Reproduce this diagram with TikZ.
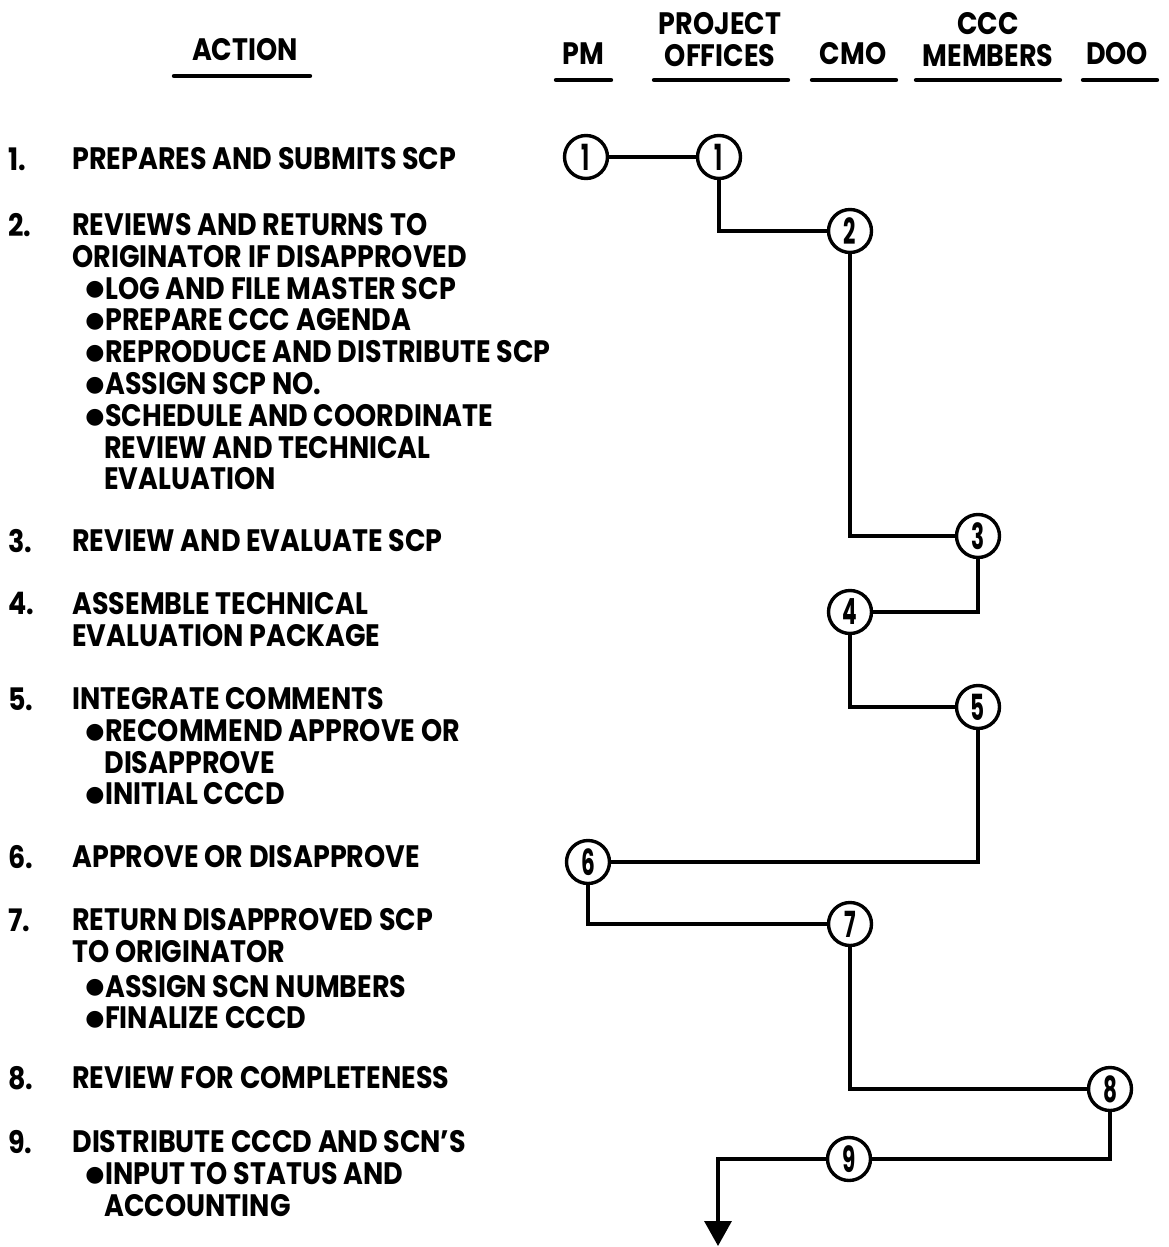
\documentclass[tikz,border=0pt]{standalone}
\usepackage{fontspec}
\setmainfont{Poppins}[FakeStretch=0.87]
\newfontfamily\stagefont{Poppins}[FakeStretch=0.6]
\newfontfamily\dotfont{DejaVu Sans}
\usetikzlibrary{arrows.meta}

\newcommand{\blt}{\hspace*{6.5pt}\raisebox{1.6pt}{\dotfont\fontsize{11}{11}\selectfont ●}\hspace{0.3pt}}
\newcommand{\cnt}{\hspace*{16pt}}

\begin{document}
\begin{tikzpicture}[x=0.5pt, y=-0.5pt,
	every node/.style={inner sep=0pt, font=\bfseries\fontsize{15.5}{15.9}\selectfont},
	item/.style={anchor=north west, align=left},
	head/.style={anchor=north, align=center},
	stage/.style={circle, draw, line width=1.7pt, minimum size=21.5pt, font=\stagefont\bfseries\fontsize{18}{18}\selectfont},
	flow/.style={line width=1.7pt},
	rule/.style={line width=2.2pt, line cap=round}]
	\useasboundingbox (0,0) rectangle (1168,1247);

	% column heads
	\node[head] (hact) at (245,38) {ACTION};
	\node[head] (hpm) at (583,42) {PM};
	\node[head] (hpo) at (720,12) {PROJECT\\OFFICES};
	\node[head] (hcmo) at (853,42) {CMO};
	\node[head] (hccc) at (988,12) {CCC\\MEMBERS};
	\node[head] (hdoo) at (1117,42) {DOO};
	\draw[rule] (174,76) -- (310,76);
	\foreach \a/\b in {556/611, 654/788, 812/896, 916/1060, 1083/1157} {\draw[rule] (\a,80) -- (\b,80);}

	% actions
	\foreach \k/\y in {1/147,2/213,3/529,4/592,5/687,6/845,7/908,8/1066,9/1130} {\node[item] (n\k) at (8,\y) {\k.};}
	\node[item] (t1) at (72,147) {PREPARES AND SUBMITS SCP};
	\node[item] (t2) at (72,213) {REVIEWS AND RETURNS TO\\ORIGINATOR IF DISAPPROVED\\\blt LOG AND FILE MASTER SCP\\\blt PREPARE CCC AGENDA\\\blt REPRODUCE AND DISTRIBUTE SCP\\\blt ASSIGN SCP NO.\\\blt SCHEDULE AND COORDINATE\\\cnt REVIEW AND TECHNICAL\\\cnt EVALUATION};
	\node[item] (t3) at (72,529) {REVIEW AND EVALUATE SCP};
	\node[item] (t4) at (72,592) {ASSEMBLE TECHNICAL\\EVALUATION PACKAGE};
	\node[item] (t5) at (72,687) {INTEGRATE COMMENTS\\\blt RECOMMEND APPROVE OR\\\cnt DISAPPROVE\\\blt INITIAL CCCD};
	\node[item] (t6) at (72,845) {APPROVE OR DISAPPROVE};
	\node[item] (t7) at (72,908) {RETURN DISAPPROVED SCP\\TO ORIGINATOR\\[1.5pt]\blt ASSIGN SCN NUMBERS\\\blt FINALIZE CCCD};
	\node[item] (t8) at (72,1066) {REVIEW FOR COMPLETENESS};
	\node[item] (t9) at (72,1130) {DISTRIBUTE CCCD AND SCN'S\\\blt INPUT TO STATUS AND\\\cnt ACCOUNTING};

	% flow
	\foreach \n/\l/\x/\y in {pm1/1/586/157, po1/1/719/157, cmo2/2/850/231, ccc3/3/978/536, cmo4/4/850/612, ccc5/5/978/707, pm6/6/588/862, cmo7/7/850/924, doo8/8/1110/1089, cmo9/9/849/1159} {\node[stage] (\n) at (\x,\y) {\l};}
	\draw[flow] (pm1) -- (po1);
	\foreach \a/\b in {po1/cmo2, cmo2/ccc3, ccc3/cmo4, cmo4/ccc5, ccc5/pm6, pm6/cmo7, cmo7/doo8, doo8/cmo9} {\draw[flow] (\a) |- (\b);}
	\coordinate (out) at (718,1246);
	\draw[flow, -{Triangle[width=13.5pt, length=12.5pt]}] (cmo9) -| (out);
\end{tikzpicture}
\end{document}
